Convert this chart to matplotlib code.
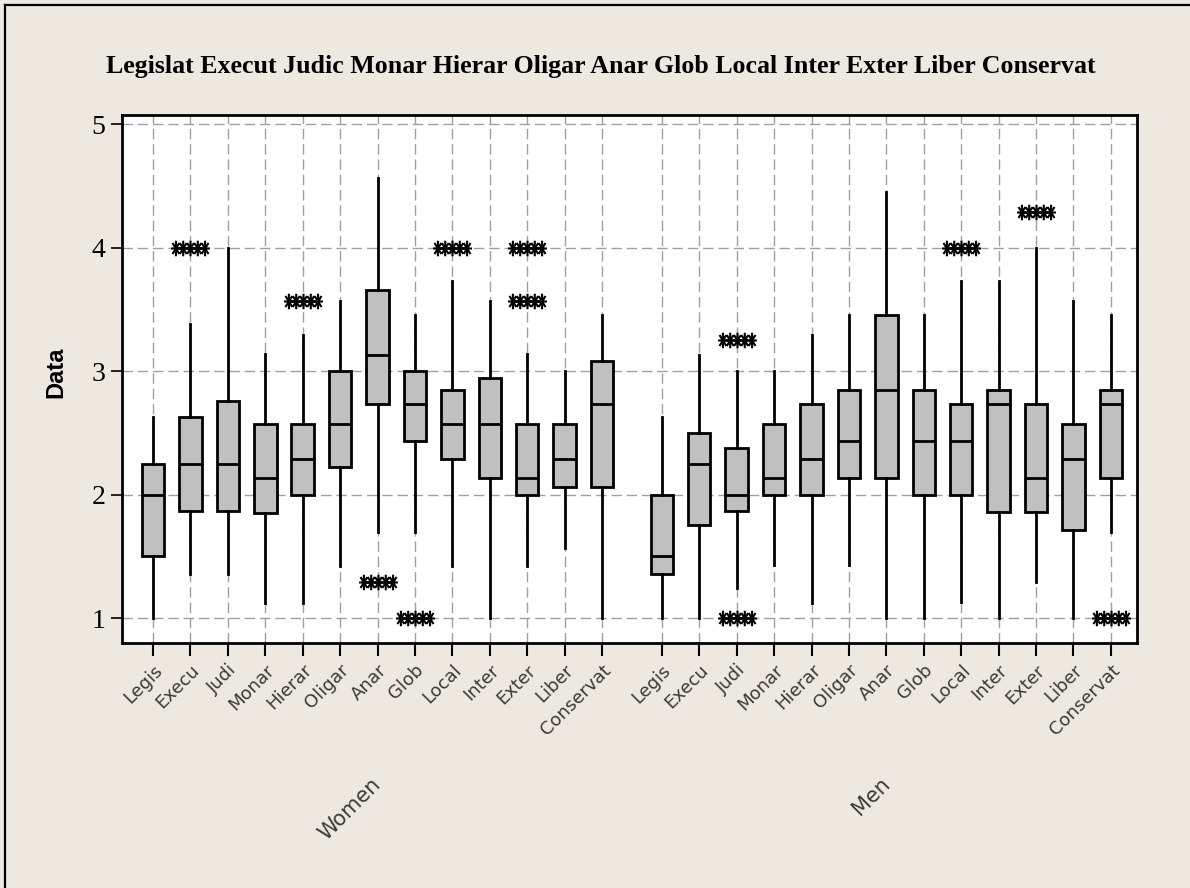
import numpy as np
import matplotlib
matplotlib.use("Agg")
import matplotlib.pyplot as plt
from matplotlib.path import Path
from matplotlib.lines import Line2D
from matplotlib.transforms import blended_transform_factory

# ---- data ----
groups = ["Women", "Men"]
items = ["Legis", "Execu", "Judi", "Monar", "Hierar", "Oligar", "Anar",
         "Glob", "Local", "Inter", "Exter", "Liber", "Conservat"]
title_text = ("Legislat Execut Judic Monar Hierar Oligar Anar Glob Local "
              "Inter Exter Liber Conservat")

women_whislo = [1.00, 1.36, 1.36, 1.12, 1.12, 1.42, 1.70, 1.70, 1.42, 1.00, 1.42, 1.57, 1.00]
women_q1     = [1.50, 1.87, 1.87, 1.85, 2.00, 2.22, 2.73, 2.43, 2.29, 2.13, 2.00, 2.06, 2.06]
women_med    = [2.00, 2.25, 2.25, 2.13, 2.29, 2.57, 3.13, 2.73, 2.57, 2.57, 2.13, 2.29, 2.73]
women_q3     = [2.25, 2.63, 2.76, 2.57, 2.57, 3.00, 3.66, 3.00, 2.85, 2.94, 2.57, 2.57, 3.08]
women_whishi = [2.63, 3.38, 4.00, 3.14, 3.29, 3.57, 4.56, 3.45, 3.73, 3.57, 3.14, 3.00, 3.45]
women_fliers = [[], [4.0], [], [], [3.57], [], [1.29], [1.0], [4.0], [], [3.57, 4.0], [], []]

men_whislo = [1.00, 1.00, 1.24, 1.43, 1.12, 1.43, 1.00, 1.00, 1.13, 1.00, 1.29, 1.00, 1.70]
men_q1     = [1.36, 1.75, 1.87, 2.00, 2.00, 2.13, 2.13, 2.00, 2.00, 1.86, 1.86, 1.71, 2.13]
men_med    = [1.50, 2.25, 2.00, 2.13, 2.29, 2.43, 2.85, 2.43, 2.43, 2.73, 2.13, 2.29, 2.73]
men_q3     = [2.00, 2.50, 2.38, 2.57, 2.73, 2.85, 3.45, 2.85, 2.73, 2.85, 2.73, 2.57, 2.85]
men_whishi = [2.63, 3.13, 3.00, 3.00, 3.29, 3.45, 4.45, 3.45, 3.73, 3.73, 4.00, 3.57, 3.45]
men_fliers = [[], [], [3.25, 1.0], [], [], [], [], [], [4.0], [], [4.29], [], [1.0]]

# ---- styling ----
BG = "#EDE9E0"
BOX_FILL = "#C0C0C0"
GRID = "#A0A0A0"
LABEL_COL = "#3A3A3A"
group_gap = 1.6


def star_cluster(n=5, step=0.75, rx=0.5, ry=0.8):
    """A row of eight-spoked asterisks used as the outlier symbol."""
    verts, codes = [], []
    for cx in (np.arange(n) - (n - 1) / 2) * step:
        for ang in np.arange(4) * np.pi / 4:
            dx, dy = rx * np.cos(ang), ry * np.sin(ang)
            verts += [(cx - dx, -dy), (cx + dx, dy)]
            codes += [Path.MOVETO, Path.LINETO]
    return Path(verts, codes)


def summaries(lo, q1, med, q3, hi, fl):
    return [dict(whislo=a, q1=b, med=c, q3=d, whishi=e, fliers=f)
            for a, b, c, d, e, f in zip(lo, q1, med, q3, hi, fl)]


stats = (summaries(women_whislo, women_q1, women_med, women_q3, women_whishi, women_fliers)
         + summaries(men_whislo, men_q1, men_med, men_q3, men_whishi, men_fliers))

n = len(items)
pos_women = np.arange(1, n + 1, dtype=float)
pos_men = pos_women + n + group_gap - 1
positions = np.concatenate([pos_women, pos_men])

fig = plt.figure(figsize=(11.90, 8.88), dpi=100, facecolor=BG)
ax = fig.add_axes([122 / 1190, 1 - 643 / 888, (1137 - 122) / 1190, (643 - 115) / 888])
ax.set_facecolor("white")

ax.bxp(stats, positions=positions, widths=0.6, patch_artist=True,
       showcaps=False, manage_ticks=False,
       boxprops=dict(facecolor=BOX_FILL, edgecolor="black", linewidth=2),
       medianprops=dict(color="black", linewidth=2),
       whiskerprops=dict(color="black", linewidth=2),
       flierprops=dict(marker=star_cluster(), markersize=28, markeredgecolor="black",
                       markerfacecolor="none", markeredgewidth=1.5, linestyle="none"))

ax.set_xlim(0.17, positions[-1] + 0.7)
ax.set_ylim(0.798, 5.073)

ax.set_axisbelow(True)
ax.grid(True, color=GRID, linewidth=1.0, linestyle=(0, (7.5, 3.5)))

ax.set_yticks([1, 2, 3, 4, 5])
ax.set_yticklabels(["1", "2", "3", "4", "5"], fontfamily="Liberation Serif", fontsize=20)
ax.tick_params(axis="y", direction="out", length=8, width=1.2, pad=4, color="black")

ax.set_xticks(positions)
ax.set_xticklabels(items * len(groups), rotation=45, ha="right", va="top",
                   rotation_mode="anchor", fontsize=13, color=LABEL_COL,
                   fontfamily="DejaVu Sans")
ax.tick_params(axis="x", direction="out", length=9, width=1.5, pad=4, color="black")

for sp in ax.spines.values():
    sp.set_linewidth(2)
    sp.set_color("black")

# group labels under the tick labels
trans = blended_transform_factory(ax.transData, fig.transFigure)
for name, p in zip(groups, [pos_women, pos_men]):
    ax.text(p.mean() + 0.2, 1 - 774 / 888, name, transform=trans, rotation=45,
            ha="right", va="top", fontsize=15, color=LABEL_COL,
            fontfamily="DejaVu Sans")

fig.text(56 / 1190, 1 - 372 / 888, "Data", rotation=90, ha="center", va="center",
         fontfamily="Liberation Sans", fontweight="bold", fontsize=17)

title = fig.text(601 / 1190, 1 - 66 / 888, title_text, ha="center", va="center",
                 fontfamily="Liberation Serif", fontweight="bold", fontsize=20)
fig.canvas.draw()
w = title.get_window_extent().width
title.set_fontsize(20 * 990 / w)

# frame around the graph window
fig.add_artist(Line2D([5 / 1190, 5 / 1190], [0, 1 - 5 / 888], transform=fig.transFigure,
                      color="black", linewidth=1.6))
fig.add_artist(Line2D([5 / 1190, 1], [1 - 5 / 888, 1 - 5 / 888], transform=fig.transFigure,
                      color="black", linewidth=1.6))

fig.savefig("out.png", dpi=100, facecolor=BG)
